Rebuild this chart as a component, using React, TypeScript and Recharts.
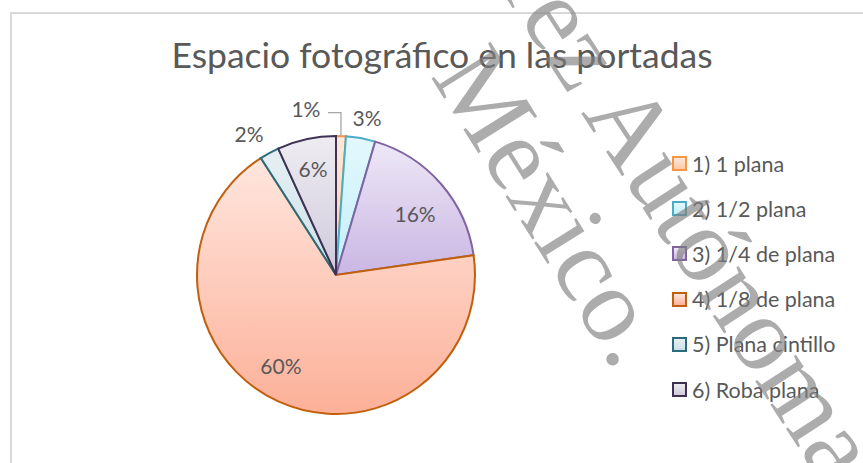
import React from 'react';
import { PieChart, Pie, Cell, Legend, Customized } from 'recharts';

// ---- data ----
const categories = ['1) 1 plana', '2) 1/2 plana', '3) 1/4 de plana', '4) 1/8 de plana', '5) Plana cintillo', '6) Roba plana'];
const values = [1, 3, 16, 60, 2, 6];
const valueLabels = ['1%', '3%', '16%', '60%', '2%', '6%'];
const chartTitle = 'Espacio fotográfico en las portadas';
const watermarkLines = ['Universidad Juárez Autónoma de Tabasco.', 'México.'];

const data = categories.map((name, i) => ({ name, value: values[i], label: valueLabels[i] }));

// ---- styles ----
const FONT = 'Lato, "Open Sans", sans-serif';
const FILL_TOP = ['#FEE9DA', '#E3F8FD', '#EEE8F7', '#FFE6DE', '#E6F0F4', '#EEECF2'];
const FILL_BOTTOM = ['#FBC9A4', '#C4EEF9', '#CAB6E3', '#FCB098', '#CDE0E8', '#CFCADB'];
const STROKES = ['#F79646', '#4BACC6', '#8064A2', '#C0600E', '#2A6C7C', '#3F3151'];
const LABEL_DIST = [169, 161, 100, 105.5, 166.5, 109.4];
const LABEL_SHIFT = [12.3, -0.87, -3.2, -6.9, 2.86, -0.2];

const renderLabel = (props: any) => {
  const { cx, cy, midAngle, outerRadius, index } = props;
  const a = ((midAngle + LABEL_SHIFT[index]) * Math.PI) / 180;
  const r = LABEL_DIST[index];
  const x = cx + r * Math.cos(a);
  const y = cy - r * Math.sin(a);
  const m = (midAngle * Math.PI) / 180;
  const ox = cx + outerRadius * Math.cos(m);
  const oy = cy - outerRadius * Math.sin(m);
  return (
    <g key={`lbl-${index}`}>
      {index === 0 && (
        <path d={`M ${x + 22} ${y + 4} H ${ox} V ${oy}`} stroke="#A6A6A6" strokeWidth={1.3} fill="none" />
      )}
      <text x={x} y={y} textAnchor="middle" dominantBaseline="central" fontFamily={FONT} fontSize={21} fill="#595959">
        {valueLabels[index]}
      </text>
    </g>
  );
};

const renderLegend = (props: any) => {
  const { payload } = props;
  return (
    <div style={{ fontFamily: FONT, fontSize: 21.5, color: '#595959' }}>
      {(payload || []).map((entry: any, k: number) => {
        const i = categories.indexOf(entry.value);
        return (
          <div key={k} style={{ display: 'flex', alignItems: 'center', height: 45.2, whiteSpace: 'nowrap' }}>
            <span
              style={{
                display: 'inline-block',
                width: 11,
                height: 11,
                border: `2px solid ${STROKES[i]}`,
                background: `linear-gradient(${FILL_TOP[i]}, ${FILL_BOTTOM[i]})`,
                marginRight: 5,
              }}
            />
            <span>{entry.value}</span>
          </div>
        );
      })}
    </div>
  );
};

const Decorations = () => (
  <g>
    <defs>
      {categories.map((c, i) => (
        <linearGradient key={c} id={`grad${i}`} x1="0" y1="0" x2="0" y2="1">
          <stop offset="0%" stopColor={FILL_TOP[i]} />
          <stop offset="100%" stopColor={FILL_BOTTOM[i]} />
        </linearGradient>
      ))}
    </defs>
    <text x={442} y={68} textAnchor="middle" fontFamily={FONT} fontSize={35.5} fill="#595959">
      {chartTitle}
    </text>
  </g>
);

export default function App() {
  return (
    <div style={{ position: 'absolute', left: 0, top: 0, width: 863, height: 463, overflow: 'hidden', background: '#fff' }}>
      <div
        style={{
          position: 'absolute',
          left: 10,
          top: 12,
          width: 900,
          height: 500,
          borderLeft: '2px solid #D9D9D9',
          borderTop: '2px solid #D9D9D9',
        }}
      />
      <div style={{ position: 'absolute', left: 0, top: 0 }}>
        <PieChart width={863} height={463} margin={{ top: 0, right: 0, bottom: 0, left: 0 }}>
          <Customized component={Decorations} />
          <Pie
            data={data}
            dataKey="value"
            nameKey="name"
            cx={336}
            cy={275}
            outerRadius={139}
            startAngle={90}
            endAngle={-270}
            isAnimationActive={false}
            label={renderLabel}
            labelLine={false}
          >
            {data.map((d, i) => (
              <Cell key={d.name} fill={`url(#grad${i})`} stroke={STROKES[i]} strokeWidth={2} />
            ))}
          </Pie>
          <Legend
            layout="vertical"
            align="right"
            verticalAlign="middle"
            content={renderLegend}
            wrapperStyle={{ left: 672, top: 141, width: 190, right: 'auto', bottom: 'auto' }}
          />
        </PieChart>
      </div>
      <svg width={863} height={463} style={{ position: 'absolute', left: 0, top: 0, pointerEvents: 'none' }}>
        <text
          x={0}
          y={0}
          transform="translate(125.5,-588.3) rotate(57)"
          fontFamily='"Liberation Serif", serif'
          fontSize={106}
          fill="#7F7F7F"
          fillOpacity={0.65}
        >
          {watermarkLines[0]}
        </text>
        <text
          x={0}
          y={0}
          transform="translate(430,76) rotate(58)"
          fontFamily='"Liberation Serif", serif'
          fontSize={106}
          fill="#7F7F7F"
          fillOpacity={0.65}
        >
          {watermarkLines[1]}
        </text>
      </svg>
    </div>
  );
}
